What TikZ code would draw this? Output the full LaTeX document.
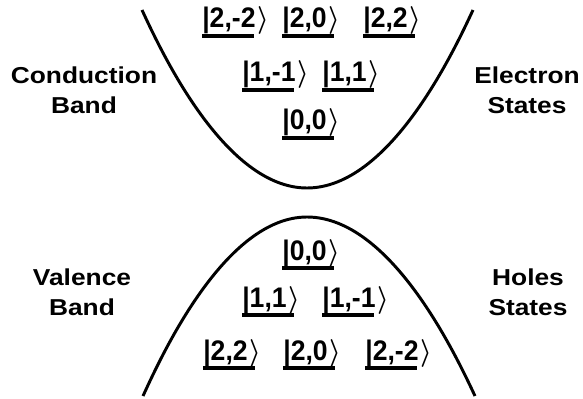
\documentclass[tikz,border=0pt]{standalone}
\usepackage{fontspec}
\setmainfont{Liberation Sans}
\usetikzlibrary{positioning}

\begin{document}
\begin{tikzpicture}[x=0.025cm, y=-0.025cm,
  band/.style={line width=2.1pt},
  lbl/.style={font=\bfseries\fontsize{15.6}{20.6}\selectfont, align=center,
    xscale=1.2, yscale=1.05},
  ket/.style={font=\bfseries\boldmath\fontsize{17.5}{20}\selectfont, inner sep=0pt,
    anchor=base west, xscale=1.08, yscale=1.15},
  level/.style={line width=2.4pt}
]
\useasboundingbox (0,0) rectangle (583,399);

% bands
\draw[band] (142,10) parabola bend (307,188) (473,10);
\draw[band] (143,396) parabola bend (307,217) (475,396);

% side labels
\node[lbl] (cb) at (84,90) {Conduction\\Band};
\node[lbl] (es) at (527,90) {Electron\\States};
\node[lbl] (vb) at (82,292) {Valence\\Band};
\node[lbl] (hs) at (528,292) {Holes\\States};

% levels
\foreach \x/\y/\t/\n in {202/28/{2,-2}/ca, 282/28/{2,0}/cb, 363/28/{2,2}/cc,
    242/82/{1,-1}/cd, 322/82/{1,1}/ce, 282/130/{0,0}/cf,
    282/260/{0,0}/va, 242/307/{1,1}/vb, 322/307/{1,-1}/vc,
    203/360/{2,2}/vd, 283/360/{2,0}/ve, 365/360/{2,-2}/vf}
{
  \node[ket] (k\n) at (\x,\y) {|\t\kern1.5pt$\rangle$};
  \draw[level] (k\n.base west) ++(0,8) -- ++(52,0);
}
\end{tikzpicture}
\end{document}
